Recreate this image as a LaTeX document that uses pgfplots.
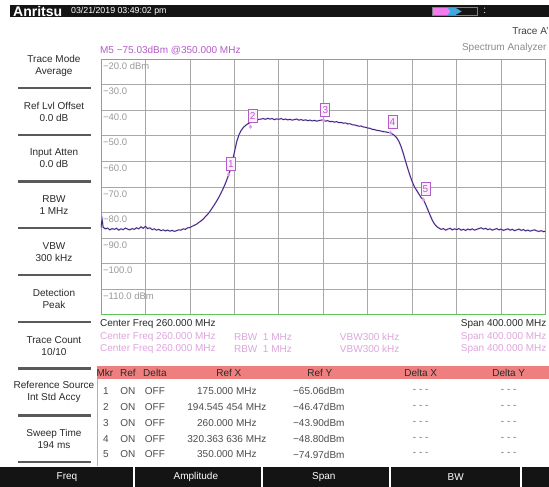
\documentclass[border=0pt]{standalone}
\usepackage{fontspec}
\setmainfont{Liberation Sans}
\usepackage{pgfplots}
\pgfplotsset{compat=1.18}
\usepackage{pgfplotstable}
\definecolor{trc}{HTML}{2D2A7C}
\definecolor{trpink}{HTML}{DC98EA}
\definecolor{mk}{HTML}{B55BC8}
\definecolor{mkfill}{HTML}{FBEFFC}
\definecolor{pinktxt}{HTML}{DDA6DD}
\definecolor{hdr}{HTML}{EF7F7F}
\definecolor{gridc}{HTML}{A8A8A8}
\definecolor{greenl}{HTML}{5CC85C}
\definecolor{sepc}{HTML}{5A5A5A}
\definecolor{batpink}{HTML}{F07CF0}
\definecolor{batblue}{HTML}{3FA7E0}
\definecolor{txt}{HTML}{2A2A2A}

\pgfplotstableread{
f l
60 -86.0
61 -82.6
62 -85.8
64 -86.4
66 -86.1
68 -86.8
70 -86.3
72 -86.6
74 -86.2
76 -86.9
78 -86.4
80 -86.7
82 -86.1
84 -86.5
86 -86.8
88 -86.3
90 -86.6
92 -86.0
94 -86.4
96 -85.6
98 -86.2
100 -85.4
102 -86.3
104 -86.0
106 -86.7
108 -86.4
110 -86.9
112 -86.6
114 -87.1
116 -86.8
118 -87.2
120 -86.9
122 -87.3
124 -87.0
126 -87.4
128 -87.1
130 -86.8
132 -86.9
134 -86.4
136 -86.6
138 -86.0
140 -85.9
142 -85.4
144 -85.0
146 -84.6
148 -83.9
150 -83.3
152 -82.6
154 -81.6
156 -80.7
158 -79.6
160 -78.3
162 -77.0
164 -75.6
166 -74.1
168 -72.4
170 -70.6
172 -68.6
174 -66.3
175 -65.1
176 -63.8
178 -60.4
180 -56.5
182 -52.5
184 -49.8
186 -48.0
188 -46.8
190 -46.0
192 -45.4
194 -44.9
196 -44.5
198 -44.1
200 -43.9
202 -43.6
204 -43.5
206 -43.3
208 -43.6
210 -43.2
212 -43.5
214 -43.3
216 -43.7
218 -43.4
220 -43.6
222 -43.3
224 -43.7
226 -43.5
228 -43.8
230 -43.6
232 -43.9
234 -43.7
236 -43.5
238 -43.9
240 -43.7
242 -44.0
244 -43.8
246 -44.1
248 -43.9
250 -44.2
252 -44.0
254 -44.3
256 -44.1
258 -43.9
260 -43.9
262 -44.3
264 -44.1
266 -44.5
268 -44.4
270 -44.7
272 -44.5
274 -44.9
276 -44.8
278 -45.1
280 -45.0
282 -45.4
284 -45.3
286 -45.7
288 -45.8
290 -46.0
292 -46.3
294 -46.2
296 -46.6
298 -46.7
300 -47.0
302 -47.1
304 -47.5
306 -47.6
308 -47.9
310 -48.0
312 -48.2
314 -48.4
316 -48.5
318 -48.7
320 -48.8
322 -49.3
324 -49.9
326 -50.8
328 -52.2
330 -54.3
332 -57.0
334 -60.0
336 -62.9
338 -65.6
340 -68.0
342 -70.0
344 -71.4
346 -72.8
348 -74.2
350 -75.0
352 -76.8
354 -78.9
356 -81.0
358 -83.0
360 -84.5
362 -85.5
364 -86.1
366 -86.6
368 -86.3
370 -86.9
372 -86.5
374 -86.2
376 -86.8
378 -86.4
380 -86.7
382 -86.3
384 -86.9
386 -86.6
388 -87.0
390 -86.5
392 -86.8
394 -86.4
396 -86.9
398 -86.6
400 -86.3
402 -86.0
404 -86.5
406 -86.2
408 -86.7
410 -86.4
412 -86.9
414 -86.6
416 -86.3
418 -86.8
420 -86.5
422 -87.0
424 -86.7
426 -86.4
428 -86.9
430 -86.6
432 -87.1
434 -86.8
436 -86.5
438 -87.0
440 -86.7
442 -87.2
444 -86.9
446 -87.3
448 -87.0
450 -86.8
452 -87.2
454 -87.4
456 -87.1
458 -87.5
460 -87.3
}\trace

\begin{document}
\begin{tikzpicture}[font=\fontsize{10}{12}\selectfont]
\begin{scope}[x=1pt,y=-1pt]
\fill[white] (0,0) rectangle (549,487);
\useasboundingbox (0,0) rectangle (549,487);
% top bar
\fill[black!92] (10,5) rectangle (549,17.5);
\node[anchor=west, text=white, font=\fontsize{14}{14}\selectfont\bfseries, inner sep=0pt] at (13,11.5) {Anritsu};
\node[anchor=west, text=white, font=\fontsize{8.8}{10}\selectfont, inner sep=0pt] at (71,11.5) {03/21/2019 03:49:02 pm};
\fill[batpink] (433,8) rectangle (453,14.8);
\fill[batblue] (448,8) -- (456,8) -- (462,11.4) -- (456,14.8) -- (448,14.8) -- (451,11.4) -- cycle;
\draw[black!50, line width=0.6pt] (432.5,7.5) rectangle (478,15.3);
\node[text=white, inner sep=0pt] at (485,11) {:};
% headings
\node[anchor=east, text=black!75, inner sep=0pt] at (549,31.5) {Trace A'};
\node[anchor=west, text=mk, inner sep=0pt] at (100,51) {M5 −75.03dBm @350.000 MHz};
\node[anchor=east, text=black!45, inner sep=0pt] at (547,47.5) {Spectrum Analyzer};
% left panel
\foreach \yy/\la/\lb in {65.6/Trace Mode/Average, 111.9/Ref Lvl Offset/0.0 dB, 158.7/Input Atten/0.0 dB, 205.5/RBW/1 MHz, 252.3/VBW/300 kHz, 299.1/Detection/Peak, 345.9/Trace Count/10\slash 10, 392.2/Reference Source/Int Std Accy, 439/Sweep Time/194 ms}
  {\node[align=center, text=txt, inner sep=0pt] at (54,\yy) {\la\\\lb};}
\foreach \yy in {88,134.8,181.6,228.4,275.2,322,368.8,415.6,462.4}
  {\draw[sepc, line width=2.4pt] (18,\yy) -- (91,\yy);}
% below plot text
\node[anchor=west, text=txt, inner sep=0pt] at (100,324) {Center Freq 260.000 MHz};
\node[anchor=east, text=txt, inner sep=0pt] at (547,324) {Span 400.000 MHz};
\foreach \yy in {336.8,349.2}{
  \node[anchor=west, text=pinktxt, inner sep=0pt] at (100,\yy) {Center Freq 260.000 MHz};
  \node[anchor=west, text=pinktxt, inner sep=0pt] at (234,\yy) {RBW\ \ 1 MHz};
  \node[anchor=west, text=pinktxt, inner sep=0pt] at (340,\yy) {VBW300 kHz};
  \node[anchor=east, text=pinktxt, inner sep=0pt] at (547,\yy) {Span 400.000 MHz};
}
% table
\fill[hdr] (97,366) rectangle (549,379.5);
\draw[black!30, line width=0.6pt] (97,379.5) -- (97,466);
\foreach \xx/\tt in {105/Mkr, 128/Ref, 155/Delta, 229/Ref X, 320/Ref Y, 421/Delta X, 509/Delta Y}
  {\node[text=txt, inner sep=0pt] at (\xx,373) {\tt};}
\foreach \yy/\n/\rx/\ry in {391.5/1/175.000 MHz/−65.06dBm, 407.3/2/194.545 454 MHz/−46.47dBm, 423.1/3/260.000 MHz/−43.90dBm, 438.9/4/320.363 636 MHz/−48.80dBm, 454.7/5/350.000 MHz/−74.97dBm}{
  \node[text=black!70, inner sep=0pt] at (106,\yy) {\n};
  \node[text=black!70, inner sep=0pt] at (128,\yy) {ON};
  \node[text=black!70, inner sep=0pt] at (155,\yy) {OFF};
  \node[text=black!70, inner sep=0pt] at (227,\yy) {\rx};
  \node[text=black!70, inner sep=0pt] at (319,\yy) {\ry};
  \node[text=black!55, inner sep=0pt] at (421,\yy) {- - -};
  \node[text=black!55, inner sep=0pt] at (509,\yy) {- - -};
}
% bottom bar
\fill[black!92] (0,467) rectangle (549,487);
\foreach \xx in {134,262,390,521}{\fill[white] (\xx-1,467) rectangle (\xx+1,487);}
\foreach \xx/\tt in {67/Freq, 196/Amplitude, 324/Span, 456/BW}
  {\node[text=white, inner sep=0pt] at (\xx,477) {\tt};}
\end{scope}

\begin{axis}[
  at={(101pt,-315pt)}, anchor=south west,
  scale only axis, width=445pt, height=256pt,
  xmin=60, xmax=460, ymin=-120, ymax=-20,
  xtick={60,100,...,460}, ytick={-120,-110,...,-20},
  xticklabels={}, yticklabels={},
  major tick length=0pt,
  grid=major, major grid style={draw=gridc, line width=0.7pt},
  axis line style={draw=black!40, line width=0.8pt},
]
\addplot[draw=trpink, line width=1.7pt, opacity=0.6] table[x=f, y=l] {\trace};
\addplot[draw=trc, line width=0.85pt] table[x=f, y=l] {\trace};
\addplot[only marks, mark=diamond*, mark size=1.8pt, color=trpink,
  point meta=explicit symbolic, nodes near coords,
  nodes near coords style={anchor=south, yshift=3.5pt, xshift=2pt, draw=mk, fill=mkfill, text=mk, inner sep=1pt, minimum width=9pt, minimum height=13pt, line width=0.7pt, font=\fontsize{10}{12}\selectfont}]
  coordinates {(175,-65.06) [1] (194.545,-46.47) [2] (260,-43.90) [3] (320.364,-48.80) [4] (350,-74.97) [5]};
\node[anchor=west, text=black!40, font=\fontsize{9.5}{11}\selectfont, inner sep=0pt, xshift=2pt, yshift=-7pt] at (axis cs:60,-20) {−20.0 dBm};
\node[anchor=west, text=black!40, font=\fontsize{9.5}{11}\selectfont, inner sep=0pt, xshift=2pt, yshift=-7pt] at (axis cs:60,-30) {−30.0};
\node[anchor=west, text=black!40, font=\fontsize{9.5}{11}\selectfont, inner sep=0pt, xshift=2pt, yshift=-7pt] at (axis cs:60,-40) {−40.0};
\node[anchor=west, text=black!40, font=\fontsize{9.5}{11}\selectfont, inner sep=0pt, xshift=2pt, yshift=-7pt] at (axis cs:60,-50) {−50.0};
\node[anchor=west, text=black!40, font=\fontsize{9.5}{11}\selectfont, inner sep=0pt, xshift=2pt, yshift=-7pt] at (axis cs:60,-60) {−60.0};
\node[anchor=west, text=black!40, font=\fontsize{9.5}{11}\selectfont, inner sep=0pt, xshift=2pt, yshift=-7pt] at (axis cs:60,-70) {−70.0};
\node[anchor=west, text=black!40, font=\fontsize{9.5}{11}\selectfont, inner sep=0pt, xshift=2pt, yshift=-7pt] at (axis cs:60,-80) {−80.0};
\node[anchor=west, text=black!40, font=\fontsize{9.5}{11}\selectfont, inner sep=0pt, xshift=2pt, yshift=-7pt] at (axis cs:60,-90) {−90.0};
\node[anchor=west, text=black!40, font=\fontsize{9.5}{11}\selectfont, inner sep=0pt, xshift=2pt, yshift=-7pt] at (axis cs:60,-100) {−100.0};
\node[anchor=west, text=black!40, font=\fontsize{9.5}{11}\selectfont, inner sep=0pt, xshift=2pt, yshift=-7pt] at (axis cs:60,-110) {−110.0 dBm};
\end{axis}
\begin{scope}[x=1pt,y=-1pt]
\draw[greenl, line width=1.2pt] (101,315) -- (546,315);
\end{scope}
\end{tikzpicture}
\end{document}
